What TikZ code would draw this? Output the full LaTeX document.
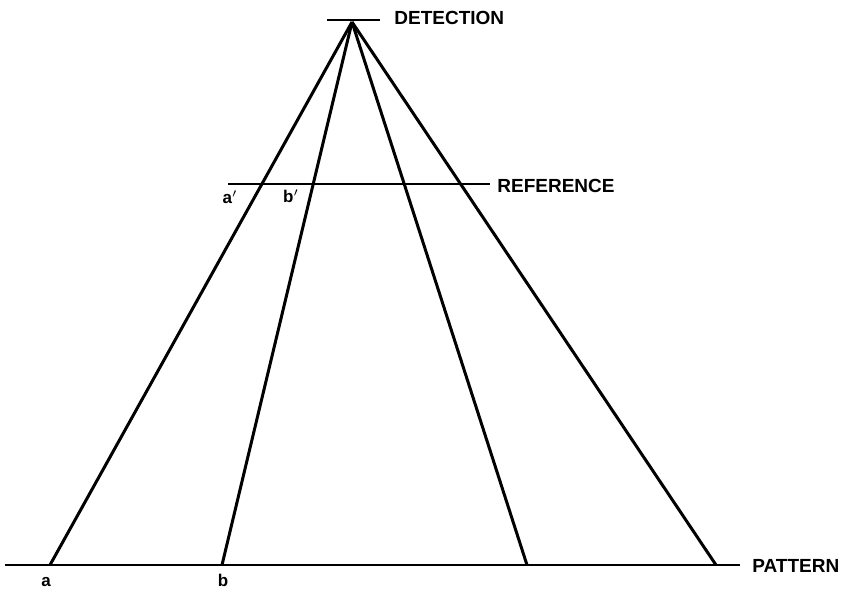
\documentclass[tikz,border=0pt]{standalone}
\usepackage{fontspec}
\setmainfont{Liberation Sans}
\usepackage{tikz}

\begin{document}
\begin{tikzpicture}[x=0.5pt,y=-0.5pt,
  ray/.style={line width=1.5pt},
  plane/.style={line width=1.3pt},
  lbl/.style={font=\bfseries\fontsize{9.5}{10}\selectfont,anchor=west,inner sep=0pt},
  pt/.style={font=\bfseries\fontsize{8.5}{9}\selectfont}]
  \useasboundingbox (0,0) rectangle (851,593);
  % source point and planes
  \coordinate (apex) at (352,22);
  \draw[plane] (327,20) -- (380,20);
  \node[lbl] (det) at (394,18) {DETECTION};
  \draw[plane] (228,184) -- (490,184);
  \node[lbl] (ref) at (497,186) {REFERENCE};
  \draw[plane] (5,565) -- (740,565);
  \node[lbl] (pat) at (752,566) {PATTERN};
  % rays down to the pattern
  \coordinate (pa) at (50,565);
  \coordinate (pb) at (222,565);
  \coordinate (pc) at (527,565);
  \coordinate (pd) at (716,565);
  \foreach \p in {pa,pb,pc,pd} \draw[ray] (apex) -- (\p);
  % labels
  \node[pt] (la2) at (230,197) {a$'$};
  \node[pt] (lb2) at (291,196) {b$'$};
  \node[pt] (la) at (46,582) {a};
  \node[pt] (lb) at (223,580) {b};
\end{tikzpicture}
\end{document}
